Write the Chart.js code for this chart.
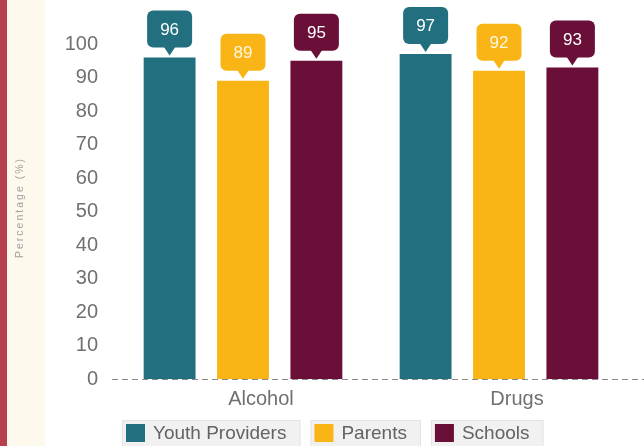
<!DOCTYPE html>
<html>
<head>
<meta charset="utf-8">
<script src="https://cdn.jsdelivr.net/npm/chart.js@4"></script>
<style>
  html, body { margin: 0; padding: 0; background: #fff; }
  #wrap { width: 644px; height: 446px; }
</style>
</head>
<body>
<div id="wrap"><canvas id="chart" width="644" height="446"></canvas></div>
<script>
// Chart data
const categories = ['Alcohol', 'Drugs'];
const seriesNames = ['Youth Providers', 'Parents', 'Schools'];
const youthProviders = [96, 97];
const parents = [89, 92];
const schools = [95, 93];
const yTickValues = [0, 10, 20, 30, 40, 50, 60, 70, 80, 90, 100];

const colors = ['#22707f', '#f9b516', '#6a0f37'];
const FONT = "'Liberation Sans', Arial, sans-serif";

// Side strip + cream panel behind the chart
const backdrop = {
    id: 'backdrop',
    beforeDraw(chart) {
        const ctx = chart.ctx;
        ctx.save();
        ctx.fillStyle = '#ffffff';
        ctx.fillRect(0, 0, chart.width, chart.height);
        ctx.fillStyle = '#fdf9ec';
        ctx.fillRect(7, 0, 38, chart.height);
        ctx.fillStyle = '#b6404b';
        ctx.fillRect(0, 0, 7, chart.height);
        ctx.restore();
    }
};

// Dashed zero line across the full width
const zeroLine = {
    id: 'zeroLine',
    afterDatasetsDraw(chart) {
        const ctx = chart.ctx;
        const y = Math.round(chart.scales.y.getPixelForValue(0)) + 0.5;
        ctx.save();
        ctx.strokeStyle = '#8a8a8a';
        ctx.lineWidth = 1.2;
        ctx.setLineDash([6, 4]);
        ctx.beginPath();
        ctx.moveTo(112, y);
        ctx.lineTo(chart.width, y);
        ctx.stroke();
        ctx.restore();
    }
};

// Speech-bubble value labels above each bar
const callouts = {
    id: 'callouts',
    afterDatasetsDraw(chart) {
        const ctx = chart.ctx;
        ctx.save();
        chart.data.datasets.forEach((ds, di) => {
            const meta = chart.getDatasetMeta(di);
            meta.data.forEach((bar, i) => {
                const w = 45, h = 37, tip = 8, gap = 2;
                const cx = bar.x;
                const tipY = bar.y - gap;
                const bottom = tipY - tip;
                const top = bottom - h;
                ctx.fillStyle = ds.backgroundColor;
                ctx.beginPath();
                ctx.roundRect(cx - w / 2, top, w, h, 6);
                ctx.fill();
                ctx.beginPath();
                ctx.moveTo(cx - 6, bottom - 1);
                ctx.lineTo(cx, tipY);
                ctx.lineTo(cx + 6, bottom - 1);
                ctx.closePath();
                ctx.fill();
                ctx.fillStyle = di === 1 ? '#fff7e6' : '#ffffff';
                ctx.font = '17px ' + FONT;
                ctx.textAlign = 'center';
                ctx.textBaseline = 'middle';
                ctx.fillText(String(ds.data[i]), cx, top + h / 2 + 1);
            });
        });
        ctx.restore();
    }
};

// Rotated y axis title with letter spacing
const yTitle = {
    id: 'yTitle',
    afterDraw(chart) {
        const ctx = chart.ctx;
        const area = chart.chartArea;
        ctx.save();
        ctx.translate(20, (area.top + area.bottom) / 2 - 4);
        ctx.rotate(-Math.PI / 2);
        ctx.font = '10.5px ' + FONT;
        ctx.letterSpacing = '2px';
        ctx.fillStyle = '#a0a0a0';
        ctx.textAlign = 'center';
        ctx.textBaseline = 'middle';
        ctx.fillText('Percentage (%)', 0, 0);
        ctx.restore();
    }
};

// Legend with boxed items
const boxLegend = {
    id: 'boxLegend',
    afterDraw(chart) {
        const ctx = chart.ctx;
        let x = 122;
        const top = 420, h = 30;
        ctx.save();
        ctx.font = '19px ' + FONT;
        ctx.textBaseline = 'middle';
        chart.data.datasets.forEach(ds => {
            const tw = ctx.measureText(ds.label).width;
            const bw = 4 + 19 + 8 + tw + 14;
            ctx.fillStyle = '#f1f1f1';
            ctx.fillRect(x, top, bw, h);
            ctx.strokeStyle = '#e3e3e3';
            ctx.lineWidth = 1;
            ctx.strokeRect(x + 0.5, top + 0.5, bw - 1, h);
            ctx.fillStyle = ds.backgroundColor;
            ctx.fillRect(x + 4, top + 4, 19, 18);
            ctx.fillStyle = '#636363';
            ctx.fillText(ds.label, x + 31, top + 14);
            x += bw + 10;
        });
        ctx.restore();
    }
};

const seriesValues = [youthProviders, parents, schools];

new Chart(document.getElementById('chart'), {
    type: 'bar',
    data: {
        labels: categories,
        datasets: seriesNames.map((name, i) => ({
            label: name,
            data: seriesValues[i],
            backgroundColor: colors[i],
            borderWidth: 0,
            categoryPercentage: 0.86,
            barPercentage: 0.707
        }))
    },
    options: {
        responsive: false,
        animation: false,
        layout: {
            padding: { left: 0, right: 17, top: 44, bottom: 0 }
        },
        plugins: {
            legend: { display: false },
            tooltip: { enabled: false }
        },
        scales: {
            x: {
                grid: { display: false, drawTicks: false },
                border: { display: false },
                ticks: {
                    color: '#707070',
                    font: { family: FONT, size: 20 },
                    padding: 8,
                    labelOffset: 18
                },
                afterFit(scale) { scale.height = 67; }
            },
            y: {
                min: 0,
                max: 100,
                grid: { display: false, drawTicks: false },
                border: { display: false },
                ticks: {
                    color: '#707070',
                    font: { family: FONT, size: 20 },
                    padding: 17
                },
                afterBuildTicks(scale) {
                    scale.ticks = yTickValues.map(v => ({ value: v }));
                },
                afterFit(scale) { scale.width = 115; }
            }
        }
    },
    plugins: [backdrop, zeroLine, callouts, yTitle, boxLegend]
});
</script>
</body>
</html>
